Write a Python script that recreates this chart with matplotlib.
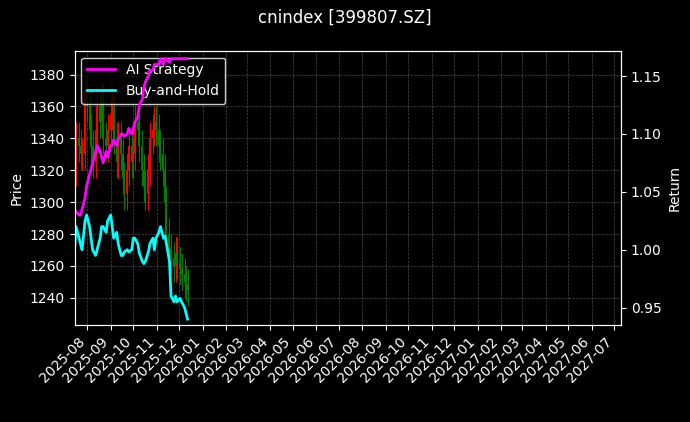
import matplotlib
matplotlib.use("Agg")
import matplotlib.pyplot as plt
import matplotlib.dates as mdates
import pandas as pd

dates = pd.bdate_range("2025-07-15", "2025-12-15")[::2]
close = [1320,1340,1335,1330,1330,1370,1360,1345,1335,1325,1345,1360,1350,1365,1340,1335,1345,1355,1360,1340,1325,1340,1330,1315,
         1305,1320,1335,1325,1330,1350,1345,1335,1320,1310,1305,1320,1340,1345,1350,1345,1335,1330,1320,1300,
         1280,1270,1265,1260,1268,1262,1258,1255,1250,1248,1245]
bh = [1.0,1.02,1.01,1.005,1.0,1.025,1.03,1.02,1.01,1.0,0.995,1.0,1.01,1.02,1.02,1.015,1.025,1.03,1.02,1.01,1.015,1.005,0.995,
      0.995,0.998,1.0,0.998,1.0,1.01,1.01,1.005,0.997,0.99,0.988,0.99,0.998,1.005,1.01,1.0,1.01,1.015,1.02,
      1.01,1.012,1.005,0.99,0.96,0.955,0.96,0.955,0.958,0.955,0.95,0.945,0.94]
ai = [1.035,1.033,1.03,1.03,1.035,1.045,1.055,1.065,1.07,1.075,1.085,1.09,1.085,1.08,1.075,1.085,1.08,
      1.09,1.09,1.095,1.09,1.095,1.1,1.1,1.098,1.1,1.105,1.1,1.105,1.11,1.115,1.125,1.13,1.14,1.145,1.15,1.155,
      1.155,1.16,1.16,1.16,1.165,1.16,1.165,1.165,1.162,1.165,1.165,1.165,1.165,1.165,1.165,1.165,1.165,1.165]
n = min(len(dates), len(close), len(bh), len(ai))
dates = dates[:n]; close = close[:n]; bh = bh[:n]; ai = ai[:n]
opn = [1310] + close[:-1]
high = [max(o, c) + 10 for o, c in zip(opn, close)]
low = [min(o, c) - 10 for o, c in zip(opn, close)]

plt.style.use("dark_background")
fig, ax = plt.subplots(figsize=(6.9, 4.22), dpi=100)
fig.patch.set_facecolor("black")
ax.set_facecolor("black")
for d, o, c, h, l in zip(dates, opn, close, high, low):
    col = "red" if c >= o else "green"
    ax.vlines(d, l, h, color=col, linewidth=0.8)
    ax.vlines(d, min(o, c), max(o, c), color=col, linewidth=1.5)
ax.set_ylim(1223, 1395)
ax.set_ylabel("Price")
ax.set_xlim(pd.Timestamp("2025-07-15"), pd.Timestamp("2027-07-10"))
ax.xaxis.set_major_locator(mdates.MonthLocator())
ax.xaxis.set_major_formatter(mdates.DateFormatter("%Y-%m"))
plt.setp(ax.get_xticklabels(), rotation=45, ha="right")
ax.grid(True, linestyle="--", linewidth=0.5, color="gray", alpha=0.6)

ax2 = ax.twinx()
l1, = ax2.plot(dates, ai, color="magenta", linewidth=2, label="AI Strategy")
l2, = ax2.plot(dates, bh, color="cyan", linewidth=2, label="Buy-and-Hold")
ax2.set_ylim(0.935, 1.172)
ax2.set_ylabel("Return")
ax.legend(handles=[l1, l2], loc="upper left", facecolor="black", edgecolor="white")
fig.suptitle("cnindex [399807.SZ]")
fig.subplots_adjust(left=0.108, right=0.9, top=0.88, bottom=0.23)
fig.savefig("out.png", dpi=100, facecolor="black")
